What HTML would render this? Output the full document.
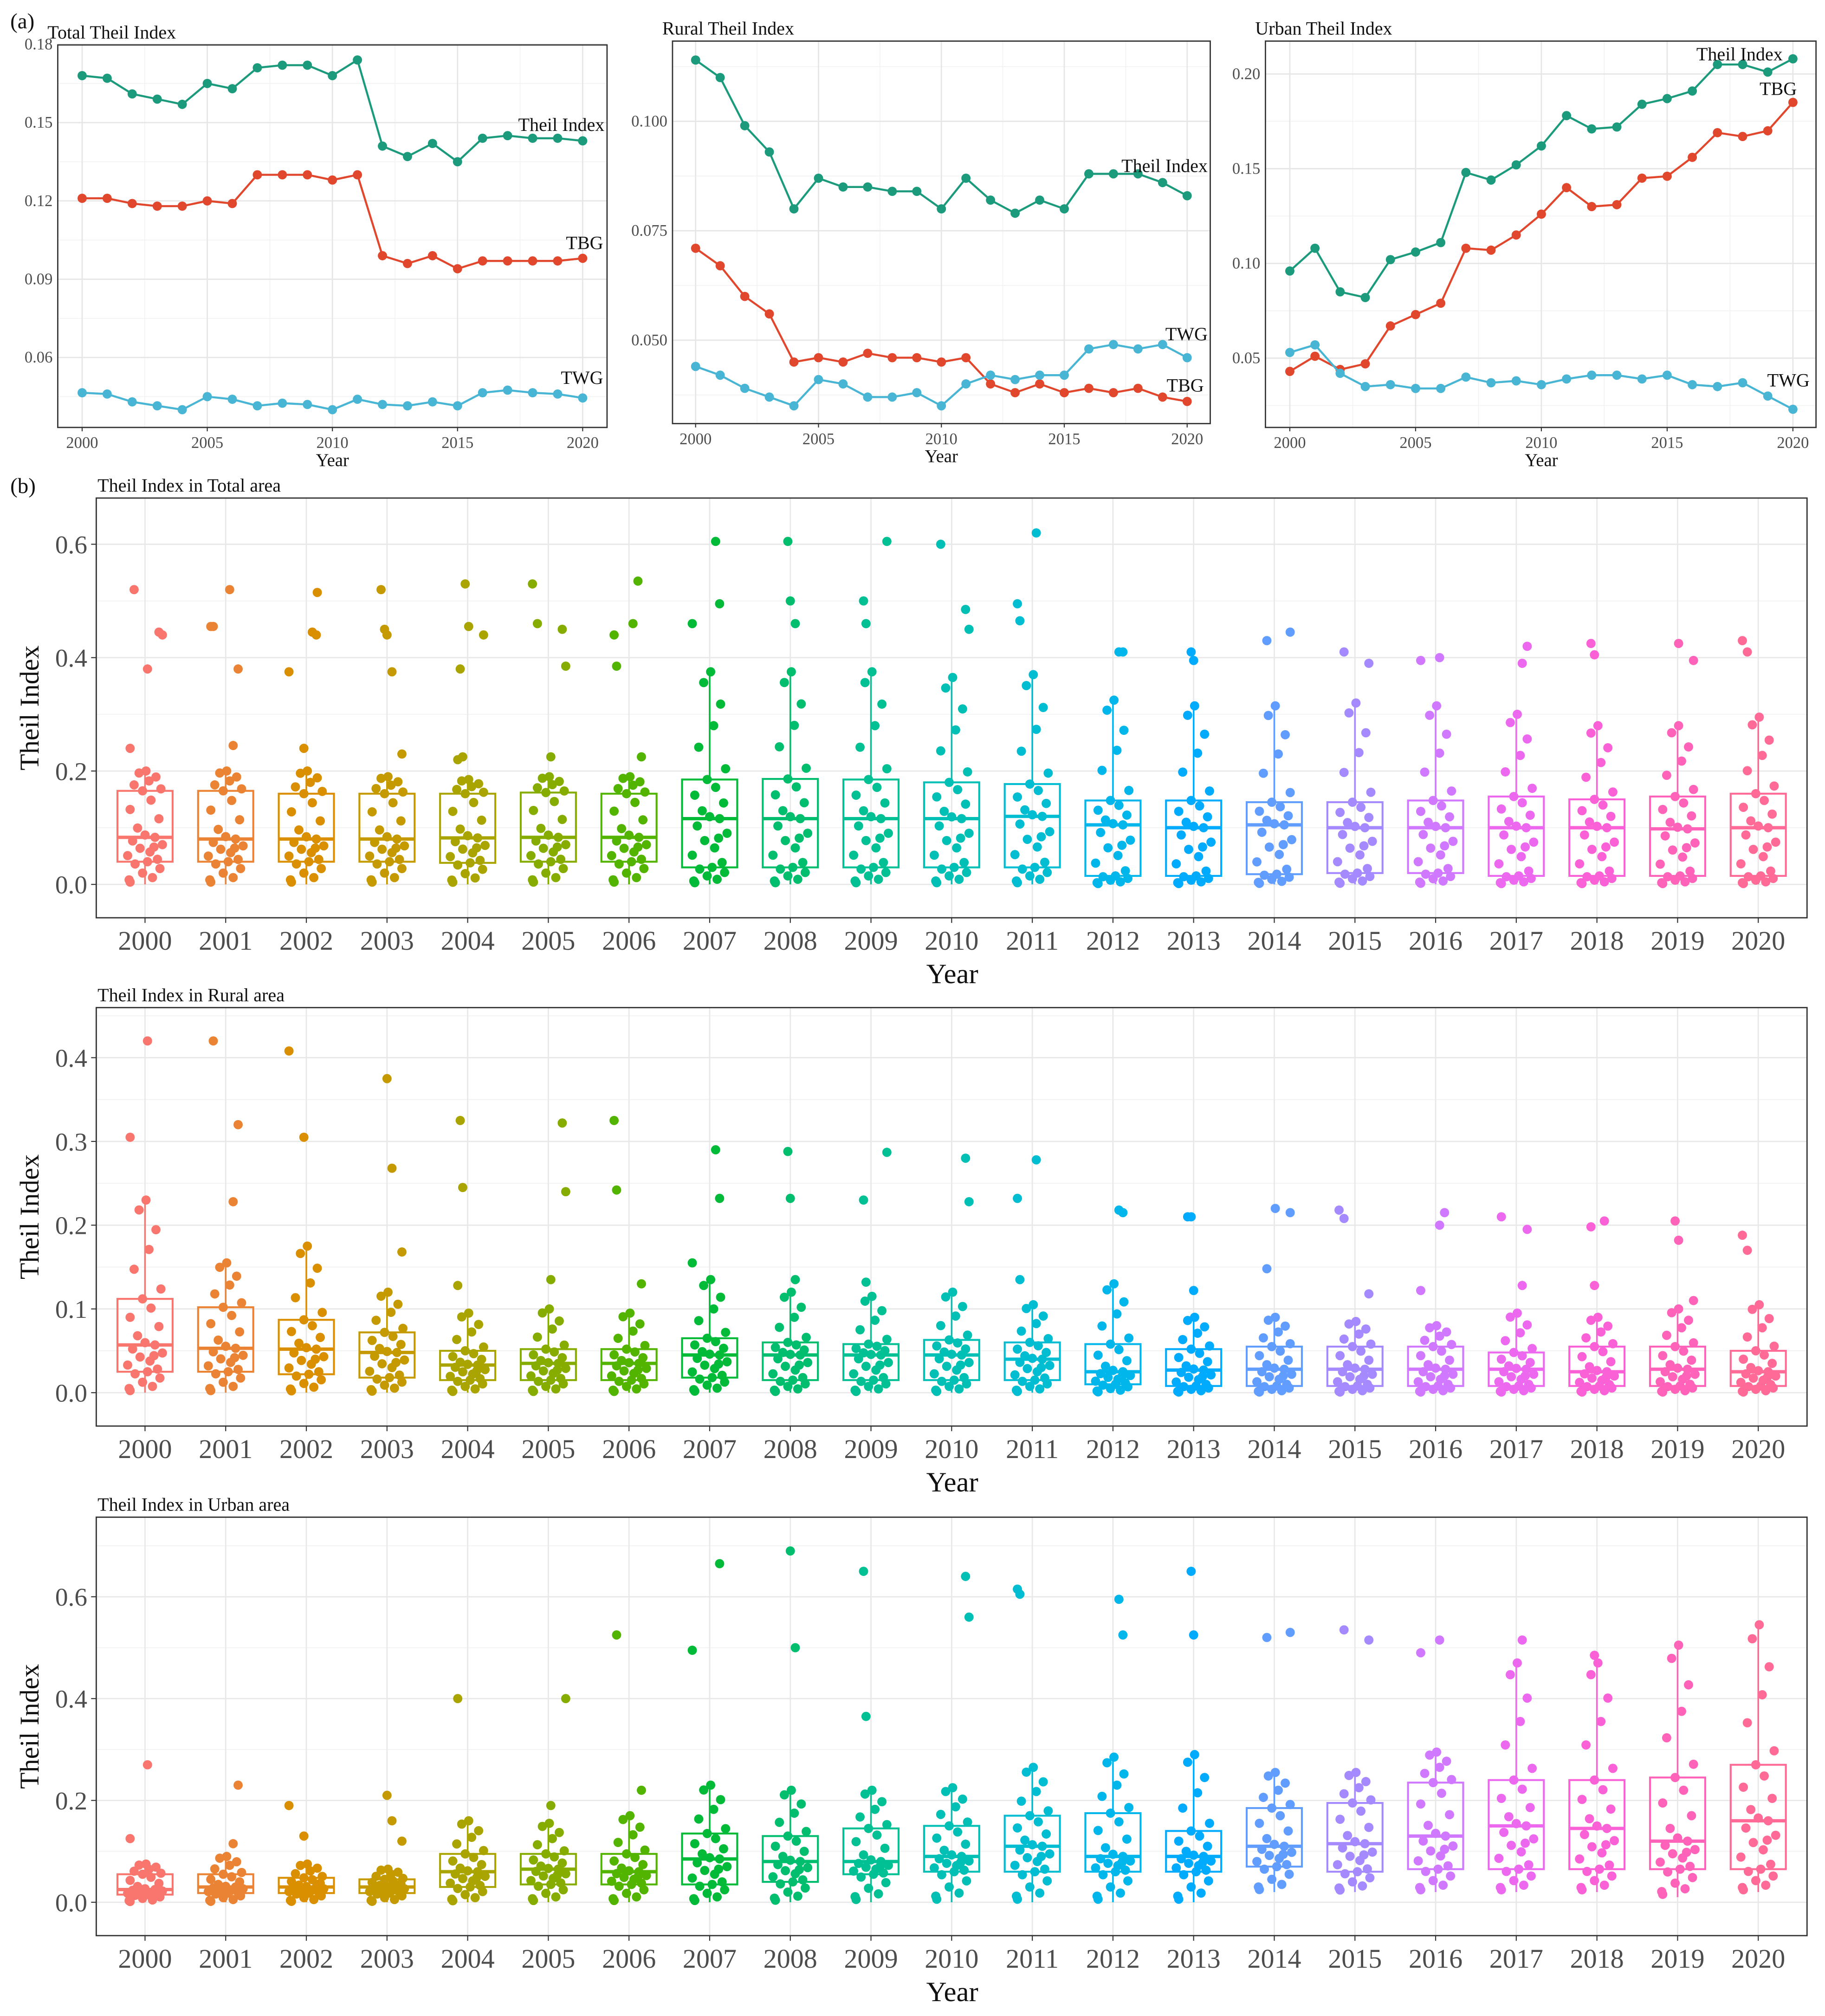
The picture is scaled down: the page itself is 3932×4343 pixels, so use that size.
<!DOCTYPE html>
<html><head><meta charset="utf-8"><style>
html,body{margin:0;padding:0;background:#fff;}
svg{display:block;font-family:"Liberation Serif",serif;}
</style></head><body>
<svg id="fig" width="3932" height="4343" viewBox="0 0 1422 1570.6" xmlns="http://www.w3.org/2000/svg">
<rect x="0" y="0" width="1422" height="1571" fill="#fff"/>
</svg>
<script>
// ---------- data: line panels ----------
const years = [2000,2001,2002,2003,2004,2005,2006,2007,2008,2009,2010,2011,2012,2013,2014,2015,2016,2017,2018,2019,2020];
const totalTheil = [0.168,0.167,0.161,0.159,0.157,0.165,0.163,0.171,0.172,0.172,0.168,0.174,0.141,0.137,0.142,0.135,0.144,0.145,0.144,0.144,0.143];
const totalTBG = [0.121,0.121,0.119,0.118,0.118,0.120,0.119,0.130,0.130,0.130,0.128,0.130,0.099,0.096,0.099,0.094,0.097,0.097,0.097,0.097,0.098];
const totalTWG = [0.0465,0.046,0.043,0.0415,0.040,0.045,0.044,0.0415,0.0425,0.042,0.040,0.044,0.042,0.0415,0.043,0.0415,0.0465,0.0475,0.0465,0.046,0.0445];
const ruralTheil = [0.114,0.110,0.099,0.093,0.080,0.087,0.085,0.085,0.084,0.084,0.080,0.087,0.082,0.079,0.082,0.080,0.088,0.088,0.088,0.086,0.083];
const ruralTBG = [0.071,0.067,0.060,0.056,0.045,0.046,0.045,0.047,0.046,0.046,0.045,0.046,0.040,0.038,0.040,0.038,0.039,0.038,0.039,0.037,0.036];
const ruralTWG = [0.044,0.042,0.039,0.037,0.035,0.041,0.040,0.037,0.037,0.038,0.035,0.040,0.042,0.041,0.042,0.042,0.048,0.049,0.048,0.049,0.046];
const urbanTheil = [0.096,0.108,0.085,0.082,0.102,0.106,0.111,0.148,0.144,0.152,0.162,0.178,0.171,0.172,0.184,0.187,0.191,0.205,0.205,0.201,0.208];
const urbanTBG = [0.043,0.051,0.044,0.047,0.067,0.073,0.079,0.108,0.107,0.115,0.126,0.140,0.130,0.131,0.145,0.146,0.156,0.169,0.167,0.170,0.185];
const urbanTWG = [0.053,0.057,0.042,0.035,0.036,0.034,0.034,0.040,0.037,0.038,0.036,0.039,0.041,0.041,0.039,0.041,0.036,0.035,0.037,0.030,0.023];
const xTickYears = [2000,2005,2010,2015,2020];
const totalTicks = [0.06,0.09,0.12,0.15,0.18];
const totalTickLabels = ["0.06","0.09","0.12","0.15","0.18"];
const ruralTicks = [0.050,0.075,0.100];
const ruralTickLabels = ["0.050","0.075","0.100"];
const urbanTicks = [0.05,0.10,0.15,0.20];
const urbanTickLabels = ["0.05","0.10","0.15","0.20"];

// ---------- data: box panels  [q1, median, q3, lowWhisker, highWhisker] ----------
const boxTotal = [[0.04,0.083,0.165,0,0.2],[0.04,0.08,0.165,0,0.2],[0.04,0.08,0.16,0,0.2],[0.04,0.08,0.16,0,0.19],[0.038,0.082,0.16,0,0.185],[0.04,0.083,0.162,0,0.19],[0.04,0.083,0.16,0,0.19],[0.03,0.116,0.185,0,0.375],[0.03,0.116,0.186,0,0.375],[0.03,0.116,0.185,0,0.375],[0.03,0.116,0.18,0,0.365],[0.03,0.12,0.177,0,0.37],[0.015,0.105,0.148,0,0.325],[0.015,0.1,0.148,0,0.315],[0.018,0.105,0.145,0,0.315],[0.02,0.1,0.145,0,0.32],[0.02,0.1,0.148,0,0.315],[0.015,0.1,0.155,0,0.3],[0.015,0.1,0.15,0,0.28],[0.015,0.098,0.155,0,0.28],[0.015,0.1,0.16,0,0.295]];
const outTotal = [[0.24,0.38,0.44,0.445,0.52],[0.245,0.38,0.455,0.455,0.52],[0.24,0.375,0.44,0.445,0.515],[0.23,0.375,0.44,0.45,0.52],[0.22,0.225,0.38,0.44,0.455,0.53],[0.225,0.385,0.45,0.46,0.53],[0.225,0.385,0.44,0.46,0.535],[0.46,0.495,0.605],[0.46,0.5,0.605],[0.46,0.5,0.605],[0.45,0.485,0.6],[0.465,0.495,0.62],[0.41,0.41],[0.395,0.41],[0.43,0.445],[0.39,0.41],[0.395,0.4],[0.39,0.42],[0.405,0.425],[0.395,0.425],[0.41,0.43]];
const boxRural = [[0.025,0.057,0.112,0,0.23],[0.025,0.053,0.102,0,0.155],[0.022,0.052,0.087,0,0.175],[0.018,0.048,0.072,0,0.12],[0.015,0.033,0.05,0,0.095],[0.015,0.035,0.052,0,0.1],[0.015,0.035,0.052,0,0.095],[0.018,0.045,0.065,0,0.135],[0.015,0.045,0.06,0,0.12],[0.015,0.045,0.058,0,0.115],[0.015,0.045,0.063,0,0.12],[0.015,0.04,0.06,0,0.105],[0.01,0.025,0.058,0,0.13],[0.008,0.027,0.052,0,0.09],[0.008,0.028,0.055,0,0.09],[0.008,0.028,0.055,0,0.085],[0.008,0.028,0.055,0,0.08],[0.008,0.028,0.048,0,0.095],[0.008,0.025,0.055,0,0.09],[0.008,0.028,0.055,0,0.1],[0.008,0.025,0.05,0,0.105]];
const outRural = [[0.305,0.42],[0.228,0.32,0.42],[0.305,0.408],[0.168,0.268,0.375],[0.128,0.245,0.325],[0.135,0.24,0.322],[0.13,0.242,0.325],[0.155,0.232,0.29],[0.135,0.232,0.288],[0.132,0.23,0.287],[0.228,0.28],[0.135,0.232,0.278],[0.215,0.218],[0.122,0.21,0.21],[0.148,0.215,0.22],[0.118,0.208,0.218],[0.122,0.2,0.215],[0.128,0.195,0.21],[0.128,0.198,0.205],[0.11,0.182,0.205],[0.17,0.188]];
const boxUrban = [[0.015,0.025,0.055,0,0.075],[0.018,0.03,0.055,0,0.09],[0.018,0.03,0.048,0,0.075],[0.018,0.03,0.045,0,0.065],[0.03,0.06,0.095,0,0.16],[0.035,0.065,0.095,0,0.155],[0.035,0.06,0.095,0,0.17],[0.035,0.085,0.135,0,0.23],[0.04,0.08,0.13,0,0.22],[0.055,0.08,0.145,0,0.22],[0.06,0.09,0.15,0,0.225],[0.06,0.11,0.17,0,0.265],[0.06,0.09,0.175,0,0.285],[0.06,0.09,0.14,0,0.29],[0.07,0.11,0.185,0.02,0.255],[0.06,0.115,0.195,0.02,0.255],[0.065,0.13,0.235,0.02,0.295],[0.065,0.15,0.24,0.02,0.47],[0.065,0.145,0.24,0.02,0.47],[0.065,0.12,0.245,0.01,0.505],[0.065,0.16,0.27,0.02,0.545]];
const outUrban = [[0.125,0.27],[0.115,0.23],[0.13,0.19],[0.12,0.16,0.21],[0.4],[0.19,0.4],[0.22,0.525],[0.495,0.665],[0.5,0.69],[0.365,0.65],[0.56,0.64],[0.605,0.615],[0.525,0.595],[0.525,0.65],[0.52,0.53],[0.515,0.535],[0.49,0.515],[0.515],[0.485],[],[]];
const yearLabels = years.map(String);
const boxTotalTicks = [0,0.2,0.4,0.6], boxTotalLabels = ["0.0","0.2","0.4","0.6"];
const boxRuralTicks = [0,0.1,0.2,0.3,0.4], boxRuralLabels = ["0.0","0.1","0.2","0.3","0.4"];
const boxUrbanTicks = [0,0.2,0.4,0.6], boxUrbanLabels = ["0.0","0.2","0.4","0.6"];

// ---------- drawing ----------
const NS = "http://www.w3.org/2000/svg";
const svg = document.getElementById('fig');
function el(tag, attrs, parent){ const e=document.createElementNS(NS,tag); for(const k in attrs) e.setAttribute(k,attrs[k]); (parent||svg).appendChild(e); return e; }
function txt(s, attrs, parent){ const e=el('text',attrs,parent); e.textContent=s; return e; }
function lin(d0,d1,r0,r1){ return v => r0 + (v-d0)/(d1-d0)*(r1-r0); }

function hcl(h){ // ggplot hue_pal (l=65, c=100)
  const L=65,C=100,hr=h*Math.PI/180,u=C*Math.cos(hr),v=C*Math.sin(hr);
  const Xn=95.047,Yn=100,Zn=108.883,un=4*Xn/(Xn+15*Yn+3*Zn),vn=9*Yn/(Xn+15*Yn+3*Zn);
  const Y=Yn*Math.pow((L+16)/116,3), up=u/(13*L)+un, vp=v/(13*L)+vn;
  const X=Y*9*up/(4*vp), Z=Y*(12-3*up-20*vp)/(4*vp);
  const x=X/100,y=Y/100,z=Z/100;
  let r=3.2406*x-1.5372*y-0.4986*z, g=-0.9689*x+1.8758*y+0.0415*z, b=0.0557*x-0.2040*y+1.0570*z;
  const gm=c=>{c=c<=0.0031308?12.92*c:1.055*Math.pow(c,1/2.4)-0.055;return Math.round(Math.max(0,Math.min(1,c))*255);};
  return `rgb(${gm(r)},${gm(g)},${gm(b)})`;
}
const hueColors = years.map((_,i)=>hcl(15+i*360/21));

const C_THEIL="#1b9a7c", C_TBG="#e1472d", C_TWG="#47b5d3";

function linePanel(cfg){
  const g=el('g',{});  
  const xs=lin(2000,2020,cfg.x2000,cfg.x2020), ys=lin(cfg.d0,cfg.d1,cfg.r0,cfg.r1);
  // minor grid
  for(let t=cfg.ymin; t<=cfg.ymax+1e-9; t+=cfg.ystep/2){ const y=ys(t); if(y<cfg.top||y>cfg.bot) continue; el('line',{x1:cfg.left,x2:cfg.right,y1:y,y2:y,stroke:'#f2f2f2','stroke-width':0.6},g); }
  for(let yr=1997.5; yr<=2022.5; yr+=2.5){ const x=xs(yr); if(x<cfg.left||x>cfg.right) continue; el('line',{x1:x,x2:x,y1:cfg.top,y2:cfg.bot,stroke:(yr%5===0?'#e6e6e6':'#f2f2f2'),'stroke-width':(yr%5===0?1:0.6)},g); }
  cfg.ticks.forEach((t,i)=>{ const y=ys(t); el('line',{x1:cfg.left,x2:cfg.right,y1:y,y2:y,stroke:'#e6e6e6','stroke-width':1},g);
    const l=txt(cfg.tickLabels[i],{x:cfg.left-4,y:y+4,'text-anchor':'end','font-size':12.5,fill:'#4d4d4d'},g);   });
  xTickYears.forEach(yr=>{ const x=xs(yr); el('line',{x1:x,x2:x,y1:cfg.bot,y2:cfg.bot+3,stroke:'#333','stroke-width':0.8},g);
    const l=txt(String(yr),{x:x,y:cfg.bot+16,'text-anchor':'middle','font-size':12.5,fill:'#4d4d4d'},g);   });
  const series=[[cfg.theil,C_THEIL,'theil-index-line'],[cfg.tbg,C_TBG,'tbg-line'],[cfg.twg,C_TWG,'twg-line']];
  series.forEach(([vals,col,nm])=>{
    const pts=vals.map((v,i)=>xs(years[i])+','+ys(v)).join(' ');
    const pl=el('polyline',{points:pts,fill:'none',stroke:col,'stroke-width':1.6},g);
     
    vals.forEach((v,i)=>{ const c=el('circle',{cx:xs(years[i]),cy:ys(v),r:3.6,fill:col},g);
        });
  });
  el('rect',{x:cfg.left,y:cfg.top,width:cfg.right-cfg.left,height:cfg.bot-cfg.top,fill:'none',stroke:'#333','stroke-width':1},g);
  const t=txt(cfg.title,{x:cfg.left-8,y:cfg.top-5,'font-size':14.5,fill:'#111'},g);  
  const xt=txt('Year',{x:(cfg.x2000+cfg.x2020)/2,y:cfg.bot+30,'text-anchor':'middle','font-size':14,fill:'#111'},g);  
  cfg.labels.forEach(([s,x,y])=>{ const l=txt(s,{x:x,y:y,'text-anchor':'end','font-size':14.5,fill:'#111'},g);   });
}

linePanel({name:'total-theil-panel',title:'Total Theil Index',left:45,right:473,top:35,bot:333,x2000:64,x2020:454,d0:0.06,d1:0.15,r0:278.5,r1:95.5,ymin:0.03,ymax:0.18,ystep:0.03,
  ticks:totalTicks,tickLabels:totalTickLabels,theil:totalTheil,tbg:totalTBG,twg:totalTWG,
  labels:[['Theil Index',471,102],['TBG',470,194],['TWG',470,299]]});
linePanel({name:'rural-theil-panel',title:'Rural Theil Index',left:524,right:943,top:32,bot:330,x2000:542,x2020:925,d0:0.05,d1:0.1,r0:265,r1:94.5,ymin:0.025,ymax:0.125,ystep:0.025,
  ticks:ruralTicks,tickLabels:ruralTickLabels,theil:ruralTheil,tbg:ruralTBG,twg:ruralTWG,
  labels:[['Theil Index',941,134],['TWG',941,265],['TBG',938,305]]});
linePanel({name:'urban-theil-panel',title:'Urban Theil Index',left:986,right:1415,top:32,bot:333,x2000:1005,x2020:1397,d0:0.05,d1:0.2,r0:279,r1:57.6,ymin:0,ymax:0.25,ystep:0.05,
  ticks:urbanTicks,tickLabels:urbanTickLabels,theil:urbanTheil,tbg:urbanTBG,twg:urbanTWG,
  labels:[['Theil Index',1389,47],['TBG',1400,74],['TWG',1410,301]]});

const pa=txt('(a)',{x:8,y:22,'font-size':17,fill:'#111'});  
const pb=txt('(b)',{x:8,y:384,'font-size':17,fill:'#111'});  

// fixed jitter pattern (positions only) and quantile-position template for inner points
const jitter=[-0.3,0.15,-0.05,0.3,-0.2,0.05,0.25,-0.35,0.1,-0.1,0.35,-0.25,0.2,0,-0.15,0.28,-0.3,0.12,-0.05,0.32,-0.22,0.08,0.22,-0.12,0.02,-0.32,0.18];
const qpos=[0.1,0.3,0.5,0.7,0.9,1.0,1.1,1.25,1.4,1.55,1.7,1.85,2.0,2.05,2.2,2.4,2.6,2.8,3.0,3.1,3.3,3.5,3.7,3.9,4.0,0.2,1.6];
function qval(s,p){ const k=[s[3],s[0],s[1],s[2],s[4]]; const i=Math.min(3,Math.floor(p)); return k[i]+(k[i+1]-k[i])*(p-i); }

function boxPanel(cfg){
  const g=el('g',{});  
  const step=(1370-113)/20, xs=i=>113+i*step, ys=lin(0,cfg.d1,cfg.r0,cfg.r1);
  for(let t=cfg.minor0; ys(t)>cfg.top; t+=cfg.minorStep){ const y=ys(t); if(y>cfg.bot) continue; el('line',{x1:75,x2:1408,y1:y,y2:y,stroke:'#f2f2f2','stroke-width':0.7},g); }
  years.forEach((_,i)=>el('line',{x1:xs(i),x2:xs(i),y1:cfg.top,y2:cfg.bot,stroke:'#e8e8e8','stroke-width':1},g));
  cfg.ticks.forEach((t,i)=>{ const y=ys(t); el('line',{x1:75,x2:1408,y1:y,y2:y,stroke:'#e8e8e8','stroke-width':1},g);
    el('line',{x1:71,x2:75,y1:y,y2:y,stroke:'#333','stroke-width':0.8},g);
    const l=txt(cfg.tickLabels[i],{x:68,y:y+7,'text-anchor':'end','font-size':20,fill:'#4d4d4d'},g);   });
  const bw=43;
  cfg.stats.forEach((s,i)=>{
    const x=xs(i), col=hueColors[i];
    const bg=el('g',{},g);  
    el('line',{x1:x,x2:x,y1:ys(s[2]),y2:ys(s[4]),stroke:col,'stroke-width':1.3},bg);
    el('line',{x1:x,x2:x,y1:ys(s[0]),y2:ys(s[3]),stroke:col,'stroke-width':1.3},bg);
    el('rect',{x:x-bw/2,y:ys(s[2]),width:bw,height:ys(s[0])-ys(s[2]),fill:'none',stroke:col,'stroke-width':1.5},bg);
    el('line',{x1:x-bw/2,x2:x+bw/2,y1:ys(s[1]),y2:ys(s[1]),stroke:col,'stroke-width':2.6},bg);
    qpos.forEach((p,k)=>{ const c=el('circle',{cx:x+jitter[k]*bw*0.9,cy:ys(qval(s,p)),r:3.6,fill:col},bg);
        });
    cfg.outs[i].forEach((v,k)=>{ const c=el('circle',{cx:x+jitter[(k*5+i)%jitter.length]*bw*0.9,cy:ys(v),r:3.6,fill:col},bg);
        });
    el('line',{x1:x,x2:x,y1:cfg.bot,y2:cfg.bot+4,stroke:'#333','stroke-width':0.8},g);
    const l=txt(yearLabels[i],{x:x,y:cfg.bot+25,'text-anchor':'middle','font-size':21,fill:'#4d4d4d'},g);  
  });
  el('rect',{x:75,y:cfg.top,width:1333,height:cfg.bot-cfg.top,fill:'none',stroke:'#333','stroke-width':1},g);
  const t=txt(cfg.title,{x:76,y:cfg.top-5,'font-size':14.5,fill:'#111'},g);  
  const xt=txt('Year',{x:742,y:cfg.bot+51,'text-anchor':'middle','font-size':22,fill:'#111'},g);  
  const cy=(cfg.top+cfg.bot)/2;
  const yt=txt('Theil Index',{x:30,y:cy,'text-anchor':'middle','font-size':21,fill:'#111',transform:`rotate(-90 30 ${cy})`},g);  
}
boxPanel({name:'total-area-boxplot',title:'Theil Index in Total area',top:388,bot:715,d1:0.6,r0:689,r1:424,minor0:0.1,minorStep:0.2,ticks:boxTotalTicks,tickLabels:boxTotalLabels,stats:boxTotal,outs:outTotal});
boxPanel({name:'rural-area-boxplot',title:'Theil Index in Rural area',top:785,bot:1111,d1:0.4,r0:1085,r1:824,minor0:0.05,minorStep:0.1,ticks:boxRuralTicks,tickLabels:boxRuralLabels,stats:boxRural,outs:outRural});
boxPanel({name:'urban-area-boxplot',title:'Theil Index in Urban area',top:1182,bot:1508,d1:0.6,r0:1482,r1:1244,minor0:0.1,minorStep:0.2,ticks:boxUrbanTicks,tickLabels:boxUrbanLabels,stats:boxUrban,outs:outUrban});
</script>
</body></html>
